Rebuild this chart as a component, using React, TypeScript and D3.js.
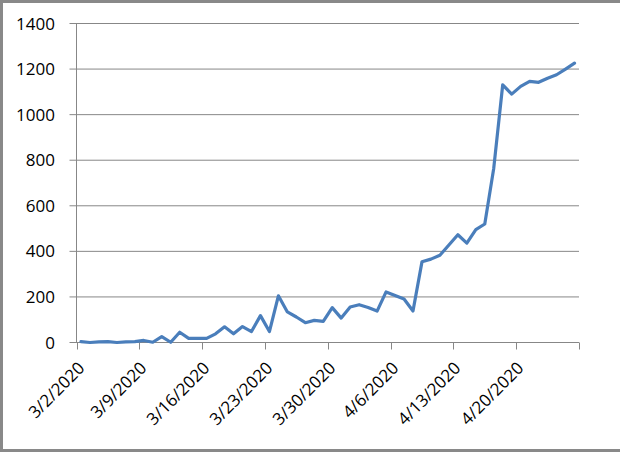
import React from "react";
import * as d3 from "d3";

const startDate = "2020-03-02";
const values = [
  4, 0, 3, 4, 0, 3, 4, 9, 1, 26, 1, 45, 18, 18, 18, 38, 69, 38, 70, 48,
  118, 48, 205, 134, 112, 87, 97, 93, 153, 107, 156, 166, 154, 138, 222, 206, 191, 138, 354, 366,
  383, 428, 473, 436, 495, 520, 765, 1131, 1090, 1124, 1146, 1142, 1160, 1175, 1200, 1226,
];
const tickLabels = [
  "3/2/2020", "3/9/2020", "3/16/2020", "3/23/2020", "3/30/2020", "4/6/2020", "4/13/2020", "4/20/2020", "",
];
const yTicks = [0, 200, 400, 600, 800, 1000, 1200, 1400];

const W = 620;
const H = 452;
const left = 76.5;
const right = 579;
const top = 23.5;
const bottom = 342.5;
const font = "'Open Sans', 'Liberation Sans', sans-serif";
const gridColor = "#878787";

export default function App() {
  const start = d3.utcParse("%Y-%m-%d")(startDate) as Date;
  const dates = values.map((_, i) => d3.utcDay.offset(start, i));
  const end = d3.utcDay.offset(start, values.length);
  const x = d3.scaleUtc().domain([start, end]).range([left, right]);
  const y = d3.scaleLinear().domain([0, 1400]).range([bottom, top]);
  const tickDates = d3.utcDay.range(start, d3.utcDay.offset(end, 1), 7);

  const line = d3
    .line<number>()
    .x((_, i) => x(d3.utcHour.offset(dates[i], 12)))
    .y((d) => y(d));

  return (
    <svg
      width={W}
      height={H}
      style={{ position: "fixed", left: 0, top: 0, display: "block", background: "#fff" }}
    >
      <rect x={1.5} y={1.5} width={W + 10} height={H - 3} fill="#fff" stroke="#898989" strokeWidth={3} />
      {yTicks.map((t) => (
        <g key={t}>
          <line x1={left - 7} x2={right} y1={y(t)} y2={y(t)} stroke={gridColor} strokeWidth={1} />
          <text
            x={55}
            y={y(t)}
            dy="0.36em"
            textAnchor="end"
            fontFamily={font}
            fontSize={17}
            fill="#000"
          >
            {t}
          </text>
        </g>
      ))}
      <line x1={left} x2={left} y1={top} y2={bottom} stroke={gridColor} strokeWidth={1} />
      {tickDates.map((d, i) => {
        const tx = Math.round(x(d)) + 0.5;
        return (
          <g key={i}>
            <line x1={tx} x2={tx} y1={bottom} y2={bottom + 7} stroke={gridColor} strokeWidth={1} />
            {tickLabels[i] ? (
              <text
                transform={`translate(${tx + 4},${365}) rotate(-45)`}
                dy="0.35em"
                textAnchor="end"
                fontFamily={font}
                fontSize={17}
                fill="#000"
              >
                {tickLabels[i]}
              </text>
            ) : null}
          </g>
        );
      })}
      <path
        d={line(values) || ""}
        fill="none"
        stroke="#4A7EBB"
        strokeWidth={3.2}
        strokeLinejoin="round"
        strokeLinecap="round"
      />
    </svg>
  );
}
